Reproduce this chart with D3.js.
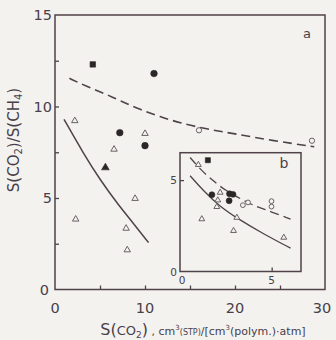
<!DOCTYPE html>
<html>
<head>
<meta charset="utf-8">
<script src="https://cdn.jsdelivr.net/npm/d3@7"></script>
<style>
  html, body { margin: 0; padding: 0; background: #f4f2ef; }
  svg { display: block; }
  text { font-family: "DejaVu Sans", sans-serif; fill: #47404a; }
</style>
</head>
<body>
<svg id="chart" width="336" height="340"></svg>
<script>
// ---- panel (a): solubility selectivity vs CO2 solubility ----
const mainFilledSquares   = [[4.2, 12.3]];
const mainFilledCircles   = [[11.0, 11.8], [7.2, 8.57], [10.0, 7.86]];
const mainFilledTriangles = [[5.6, 6.66]];
const mainOpenTriangles   = [[2.2, 9.22], [6.56, 7.66], [10.0, 8.52], [8.9, 4.97],
                             [2.3, 3.84], [7.9, 3.34], [8.03, 2.16]];
const mainOpenCircles     = [[16.0, 8.7], [28.55, 8.13]];
const mainDashedCurve     = [[1.6, 11.54], [3.5, 11.1], [5.56, 10.7], [7.4, 10.28], [9.44, 9.84],
                             [11.67, 9.44], [13.9, 9.1], [17.0, 8.75], [20.1, 8.5], [24.0, 8.15], [28.8, 7.8]];
const mainSolidCurve      = [[1.0, 9.3], [3.15, 7.44], [5.0, 6.0], [7.04, 4.62], [8.7, 3.62], [10.4, 2.56]];
const mainXTicks = [0, 10, 20, 30];
const mainYTicks = [0, 5, 10, 15];

// ---- panel (b): inset ----
const insetFilledSquares  = [[1.52, 6.09]];
const insetFilledCircles  = [[1.74, 4.2], [2.7, 4.25], [2.89, 4.22], [2.68, 3.87]];
const insetOpenTriangles  = [[1.0, 5.84], [2.19, 4.32], [2.06, 3.9], [2.01, 3.54],
                             [1.19, 2.87], [3.1, 2.95], [2.92, 2.23], [5.66, 1.86]];
const insetOpenCircles    = [[3.71, 3.78], [3.43, 3.63], [4.99, 3.85], [4.99, 3.55]];
const insetDashedCurve    = [[0.55, 6.24], [1.19, 5.5], [1.82, 4.96], [2.37, 4.5],
                             [3.74, 3.72], [4.48, 3.45], [6.03, 2.87]];
const insetSolidCurve     = [[0.55, 5.24], [1.28, 4.41], [2.19, 3.54], [3.1, 2.92], [4.56, 2.05], [6.03, 1.28]];
const insetXTicks = [0, 5];
const insetYTicks = [0, 5];

const ink = "#4f4349";
const markInk = "#2b2628";
const openInk = "#6a6266";
const paper = "#f4f2ef";

const svg = d3.select("#chart");

// main scales
const x = d3.scaleLinear().domain([0, 30]).range([55, 325]);
const y = d3.scaleLinear().domain([0, 15]).range([289.5, 15]);

// inset scales
const xi = d3.scaleLinear().domain([0, 6.6]).range([180, 301]);
const yi = d3.scaleLinear().domain([0, 6.5]).range([271.5, 152.7]);

function frame(g, xs, ys, xTickVals, yTickVals, tickLen) {
  const [x0, x1] = xs.range();
  const [y0, y1] = ys.range();
  g.append("rect")
    .attr("x", x0).attr("y", y1)
    .attr("width", x1 - x0).attr("height", y0 - y1)
    .attr("fill", "none").attr("stroke", ink).attr("stroke-width", 1.5);
  // inward ticks
  const bottom = d3.axisBottom(xs).tickValues(xTickVals).tickSize(-tickLen).tickFormat("");
  const left = d3.axisLeft(ys).tickValues(yTickVals).tickSize(-tickLen).tickFormat("");
  const gb = g.append("g").attr("transform", `translate(0,${y0})`).call(bottom);
  const gl = g.append("g").attr("transform", `translate(${x0},0)`).call(left);
  [gb, gl].forEach(a => {
    a.select(".domain").remove();
    a.selectAll("line").attr("stroke", ink).attr("stroke-width", 1.3);
  });
}

function curve(g, pts, xs, ys, dashed, w) {
  const line = d3.line().x(d => xs(d[0])).y(d => ys(d[1])).curve(d3.curveBasis);
  g.append("path").datum(pts)
    .attr("d", line)
    .attr("fill", "none")
    .attr("stroke", ink)
    .attr("stroke-width", w)
    .attr("stroke-dasharray", dashed ? "9,5" : null);
}

function markers(g, pts, xs, ys, kind, size) {
  const shape = {
    square: d3.symbolSquare, circle: d3.symbolCircle, triangle: d3.symbolTriangle
  };
  const filled = kind.startsWith("f");
  const sym = kind.slice(1);
  g.selectAll(null).data(pts).enter().append("path")
    .attr("transform", d => `translate(${xs(d[0])},${ys(d[1])})`)
    .attr("d", d3.symbol().type(shape[sym]).size(size))
    .attr("fill", filled ? markInk : paper)
    .attr("stroke", filled ? markInk : openInk)
    .attr("stroke-width", filled ? 0.6 : 1);
}

// ---------- panel (a) ----------
const ga = svg.append("g");
frame(ga, x, y, [5, 10, 15, 20, 25], [2.5, 5, 7.5, 10, 12.5], 4);

ga.selectAll(null).data(mainXTicks).enter().append("text")
  .attr("x", d => x(d) - (d === 30 ? 3 : 0)).attr("y", 313)
  .attr("text-anchor", "middle").attr("font-size", 14.5)
  .text(d => d);
ga.selectAll(null).data(mainYTicks).enter().append("text")
  .attr("x", d => d === 0 ? 49 : 52).attr("y", d => y(d) + 5)
  .attr("text-anchor", "end").attr("font-size", 14.5)
  .text(d => d);

curve(ga, mainDashedCurve, x, y, true, 1.6);
curve(ga, mainSolidCurve, x, y, false, 1.5);

markers(ga, mainOpenTriangles, x, y, "otriangle", 18);
markers(ga, mainOpenCircles, x, y, "ocircle", 22);
markers(ga, mainFilledCircles, x, y, "fcircle", 34);
markers(ga, mainFilledSquares, x, y, "fsquare", 30);
markers(ga, mainFilledTriangles, x, y, "ftriangle", 26);

ga.append("text").attr("x", 307).attr("y", 38)
  .attr("text-anchor", "middle").attr("font-size", 13).text("a");

// ---------- panel (b) inset ----------
const gbk = svg.append("g");
gbk.append("rect")
  .attr("x", xi.range()[0]).attr("y", yi.range()[1])
  .attr("width", xi.range()[1] - xi.range()[0])
  .attr("height", yi.range()[0] - yi.range()[1])
  .attr("fill", paper);
frame(gbk, xi, yi, [5], [5], 4);

gbk.selectAll(null).data(insetXTicks).enter().append("text")
  .attr("x", d => xi(d) + (d === 0 ? 2 : 0)).attr("y", 284)
  .attr("text-anchor", "middle").attr("font-size", 10.5)
  .text(d => d);
gbk.selectAll(null).data(insetYTicks).enter().append("text")
  .attr("x", d => xi(0) - 3).attr("y", d => yi(d) + 4)
  .attr("text-anchor", "end").attr("font-size", 10.5)
  .text(d => d);

curve(gbk, insetDashedCurve, xi, yi, true, 1.3);
curve(gbk, insetSolidCurve, xi, yi, false, 1.3);

markers(gbk, insetOpenTriangles, xi, yi, "otriangle", 15);
markers(gbk, insetOpenCircles, xi, yi, "ocircle", 18);
markers(gbk, insetFilledCircles, xi, yi, "fcircle", 28);
markers(gbk, insetFilledSquares, xi, yi, "fsquare", 26);

gbk.append("text").attr("x", 284).attr("y", 168)
  .attr("text-anchor", "middle").attr("font-size", 14).text("b");

// ---------- axis titles ----------
const xt = svg.append("text").attr("x", 203).attr("y", 335).attr("text-anchor", "middle");
xt.append("tspan").attr("font-size", 16).text("S(");
xt.append("tspan").attr("font-size", 13).text("CO");
xt.append("tspan").attr("font-size", 9).attr("dy", 3).text("2");
xt.append("tspan").attr("font-size", 16).attr("dy", -3).text(")");
xt.append("tspan").attr("font-size", 11).text(" ,  cm");
xt.append("tspan").attr("font-size", 7).attr("dy", -5).text("3");
xt.append("tspan").attr("font-size", 8).attr("dy", 5).text("(STP)");
xt.append("tspan").attr("font-size", 11).text("/[cm");
xt.append("tspan").attr("font-size", 7).attr("dy", -5).text("3");
xt.append("tspan").attr("font-size", 11).attr("dy", 5).text("(polym.)·atm]");

const yt = svg.append("text")
  .attr("transform", "translate(19,140) rotate(-90)")
  .attr("text-anchor", "middle").attr("font-size", 15);
yt.append("tspan").text("S(CO");
yt.append("tspan").attr("font-size", 10).attr("dy", 3).text("2");
yt.append("tspan").attr("dy", -3).text(")/S(CH");
yt.append("tspan").attr("font-size", 10).attr("dy", 3).text("4");
yt.append("tspan").attr("dy", -3).text(")");
</script>
</body>
</html>
